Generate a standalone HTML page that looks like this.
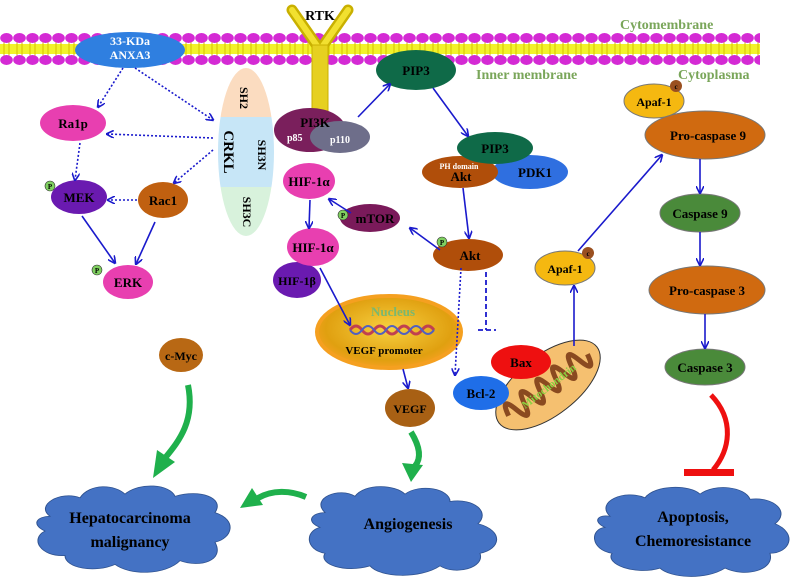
<!DOCTYPE html>
<html><head><meta charset="utf-8"><style>
html,body{margin:0;padding:0;background:#fff;}
svg{display:block;font-family:"Liberation Serif",serif;font-weight:bold;}
</style></head><body>
<svg width="795" height="579" viewBox="0 0 795 579" xmlns="http://www.w3.org/2000/svg">
<defs>
<pattern id="mem" x="0" y="33" width="13" height="32" patternUnits="userSpaceOnUse">
<rect x="0" y="11" width="13" height="10" fill="#f2f22a"/>
<line x1="4" y1="9" x2="4" y2="23" stroke="#d6c000" stroke-width="1"/>
<line x1="9" y1="9" x2="9" y2="23" stroke="#d6c000" stroke-width="1"/>
<ellipse cx="6.5" cy="5" rx="6.3" ry="5" fill="#d42ad4"/>
<ellipse cx="6.5" cy="27" rx="6.3" ry="5" fill="#d42ad4"/>
</pattern>
<marker id="ah" markerWidth="8" markerHeight="8" refX="7" refY="4" orient="auto" markerUnits="userSpaceOnUse"><path d="M0,0 L8,4 L0,8" fill="none" stroke="#1a1acc" stroke-width="1.6"/></marker>
<radialGradient id="nuc" cx="50%" cy="45%" r="55%"><stop offset="0" stop-color="#f7d040"/><stop offset="0.8" stop-color="#e0a010"/><stop offset="1" stop-color="#f5a020"/></radialGradient>
</defs>
<rect x="0" y="33" width="760" height="32" fill="url(#mem)"/>
<text x="620" y="29" fill="#7aa65a" font-size="14">Cytomembrane</text>
<text x="476" y="79" fill="#7aa65a" font-size="14">Inner membrane</text>
<text x="678" y="79" fill="#7aa65a" font-size="14">Cytoplasma</text>

<path d="M292,10 L320,50 L348,10" fill="none" stroke="#c9b000" stroke-width="11" stroke-linecap="round"/>
<path d="M292,10 L320,50 L348,10" fill="none" stroke="#f2e030" stroke-width="6" stroke-linecap="round"/>
<rect x="312" y="45" width="16" height="70" fill="#e6d020" stroke="#c9b000"/>
<text x="320" y="20" text-anchor="middle" font-size="14">RTK</text>

<ellipse cx="130" cy="50" rx="55" ry="18" fill="#2f7fe0"/>
<text x="130" y="45" text-anchor="middle" font-size="12" fill="#fff">33-KDa</text>
<text x="130" y="59" text-anchor="middle" font-size="12" fill="#fff">ANXA3</text>

<clipPath id="ck"><ellipse cx="246" cy="152" rx="28" ry="84"/></clipPath>
<g clip-path="url(#ck)">
<rect x="215" y="66" width="65" height="51" fill="#fbdcc0"/>
<rect x="215" y="117" width="65" height="70" fill="#c7e6f7"/>
<rect x="215" y="187" width="65" height="52" fill="#d8f2dc"/>
</g>
<text transform="translate(240,98) rotate(90)" text-anchor="middle" font-size="12">SH2</text>
<text transform="translate(224,152) rotate(90)" text-anchor="middle" font-size="15">CRKL</text>
<text transform="translate(258,155) rotate(90)" text-anchor="middle" font-size="12">SH3N</text>
<text transform="translate(243,212) rotate(90)" text-anchor="middle" font-size="12">SH3C</text>

<ellipse cx="310" cy="130" rx="36" ry="22" fill="#7a1f5c"/>
<ellipse cx="340" cy="137" rx="30" ry="16" fill="#6e6e8a"/>
<text x="315" y="127" text-anchor="middle" font-size="13">PI3K</text>
<text x="287" y="141" font-size="10" fill="#fff">p85</text>
<text x="330" y="143" font-size="10" fill="#fff">p110</text>

<ellipse cx="73" cy="123" rx="33" ry="18" fill="#e83fb0"/><text x="73" y="128" text-anchor="middle" font-size="13">Ra1p</text>
<ellipse cx="79" cy="197" rx="28" ry="17" fill="#6a1ab0"/><text x="79" y="202" text-anchor="middle" font-size="13">MEK</text>
<circle cx="50" cy="186" r="5" fill="#7fd060" stroke="#333" stroke-width=".6"/><text x="50" y="189" text-anchor="middle" font-size="7">P</text>
<ellipse cx="163" cy="200" rx="25" ry="18" fill="#c06010"/><text x="163" y="205" text-anchor="middle" font-size="13">Rac1</text>
<ellipse cx="128" cy="282" rx="25" ry="17" fill="#e83fb0"/><text x="128" y="287" text-anchor="middle" font-size="13">ERK</text>
<circle cx="97" cy="270" r="5" fill="#7fd060" stroke="#333" stroke-width=".6"/><text x="97" y="273" text-anchor="middle" font-size="7">P</text>
<ellipse cx="181" cy="355" rx="22" ry="17" fill="#b86814"/><text x="181" y="360" text-anchor="middle" font-size="12">c-Myc</text>

<ellipse cx="309" cy="181" rx="26" ry="18" fill="#e83fb0"/><text x="309" y="186" text-anchor="middle" font-size="13">HIF-1α</text>
<ellipse cx="370" cy="218" rx="30" ry="14" fill="#7a1a5a"/><text x="375" y="223" text-anchor="middle" font-size="13">mTOR</text>
<circle cx="343" cy="215" r="5" fill="#7fd060" stroke="#333" stroke-width=".6"/><text x="343" y="218" text-anchor="middle" font-size="7">P</text>
<ellipse cx="297" cy="280" rx="24" ry="18" fill="#6a1ab0"/><text x="297" y="285" text-anchor="middle" font-size="12">HIF-1β</text>
<ellipse cx="313" cy="247" rx="26" ry="19" fill="#e83fb0"/><text x="313" y="252" text-anchor="middle" font-size="13">HIF-1α</text>

<ellipse cx="389" cy="332" rx="72" ry="36" fill="url(#nuc)" stroke="#f5a020" stroke-width="4"/>
<text x="393" y="316" text-anchor="middle" font-size="13" fill="#7ab870">Nucleus</text>
<path d="M350,330 q6,-8 12,0 q6,8 12,0 q6,-8 12,0 q6,8 12,0 q6,-8 12,0 q6,8 12,0 q6,-8 12,0" fill="none" stroke="#c04050" stroke-width="3"/>
<path d="M350,330 q6,8 12,0 q6,-8 12,0 q6,8 12,0 q6,-8 12,0 q6,8 12,0 q6,-8 12,0 q6,8 12,0" fill="none" stroke="#5060c0" stroke-width="2"/>
<text x="384" y="354" text-anchor="middle" font-size="11">VEGF promoter</text>
<ellipse cx="410" cy="408" rx="25" ry="19" fill="#a86014"/><text x="410" y="413" text-anchor="middle" font-size="12">VEGF</text>

<ellipse cx="416" cy="70" rx="40" ry="20" fill="#0f6a48"/><text x="416" y="75" text-anchor="middle" font-size="13">PIP3</text>
<ellipse cx="530" cy="172" rx="38" ry="17" fill="#2f6fe0"/><text x="535" y="177" text-anchor="middle" font-size="13">PDK1</text>
<ellipse cx="460" cy="172" rx="38" ry="16" fill="#b04e0a"/><text x="459" y="169" text-anchor="middle" font-size="8" fill="#fff">PH domain</text><text x="461" y="181" text-anchor="middle" font-size="13">Akt</text>
<ellipse cx="495" cy="148" rx="38" ry="16" fill="#0f6a48"/><text x="495" y="153" text-anchor="middle" font-size="13">PIP3</text>
<ellipse cx="468" cy="255" rx="35" ry="16" fill="#b04e0a"/><text x="470" y="260" text-anchor="middle" font-size="13">Akt</text>
<circle cx="442" cy="242" r="5" fill="#7fd060" stroke="#333" stroke-width=".6"/><text x="442" y="245" text-anchor="middle" font-size="7">P</text>

<g transform="translate(548,385) rotate(-38)">
<ellipse rx="62" ry="30" fill="#f5c070" stroke="#333"/>
<path d="M-50,0 q5,-22 10,0 q5,22 10,0 q5,-22 10,0 q5,22 10,0 q5,-22 10,0 q5,22 10,0 q5,-22 10,0 q5,22 10,0 q5,-22 10,0 q5,22 10,0" fill="none" stroke="#8a4a20" stroke-width="5"/>
<text x="0" y="5" text-anchor="middle" font-size="11" fill="#8ad040">Mitochondrin</text>
</g>
<ellipse cx="521" cy="362" rx="30" ry="17" fill="#ee1010"/><text x="521" y="367" text-anchor="middle" font-size="13">Bax</text>
<ellipse cx="481" cy="393" rx="28" ry="17" fill="#1f6ee8"/><text x="481" y="398" text-anchor="middle" font-size="13">Bcl-2</text>

<ellipse cx="565" cy="268" rx="30" ry="17" fill="#f5b810" stroke="#777"/><text x="565" y="273" text-anchor="middle" font-size="12">Apaf-1</text>
<circle cx="588" cy="253" r="6" fill="#9a5020"/><text x="588" y="256" text-anchor="middle" font-size="7">c</text>
<ellipse cx="654" cy="101" rx="30" ry="17" fill="#f5b810" stroke="#777"/><text x="654" y="106" text-anchor="middle" font-size="12">Apaf-1</text>
<circle cx="676" cy="86" r="6" fill="#9a5020"/><text x="676" y="89" text-anchor="middle" font-size="7">c</text>
<ellipse cx="705" cy="135" rx="60" ry="24" fill="#d06a10" stroke="#777"/><text x="708" y="140" text-anchor="middle" font-size="13">Pro-caspase 9</text>
<ellipse cx="700" cy="213" rx="40" ry="19" fill="#4a8a3a" stroke="#777"/><text x="700" y="218" text-anchor="middle" font-size="13">Caspase 9</text>
<ellipse cx="707" cy="290" rx="58" ry="24" fill="#d06a10" stroke="#777"/><text x="707" y="295" text-anchor="middle" font-size="13">Pro-caspase 3</text>
<ellipse cx="705" cy="367" rx="40" ry="18" fill="#4a8a3a" stroke="#777"/><text x="705" y="372" text-anchor="middle" font-size="13">Caspase 3</text>

<g fill="none" stroke="#1a1acc" stroke-width="1.6" marker-end="url(#ah)">
<path d="M123,68 L98,107" stroke-dasharray="2,2"/>
<path d="M135,68 L213,120" stroke-dasharray="2,2"/>
<path d="M213,138 L107,134" stroke-dasharray="2,2"/>
<path d="M213,150 L174,183" stroke-dasharray="2,2"/>
<path d="M80,143 L75,180" stroke-dasharray="2,2"/>
<path d="M137,200 L108,200" stroke-dasharray="2,2"/>
<path d="M82,216 L115,263"/>
<path d="M155,222 L136,264"/>
<path d="M358,117 L390,84"/>
<path d="M433,88 L468,136"/>
<path d="M463,188 L469,238"/>
<path d="M440,250 L410,228"/>
<path d="M351,213 L329,199"/>
<path d="M310,200 L309,228"/>
<path d="M320,268 L350,325"/>
<path d="M403,369 L408,388"/>
<path d="M461,268 L455,375" stroke-dasharray="2,2"/>
<path d="M574,346 L574,286"/>
<path d="M578,251 L662,155"/>
<path d="M700,159 L700,193"/>
<path d="M700,232 L700,265"/>
<path d="M705,314 L705,348"/>
</g>
<path d="M486,272 L486,330 M478,330 L496,330" fill="none" stroke="#1a1acc" stroke-width="1.8" stroke-dasharray="5,3"/>

<g fill="#4472c4" stroke="#2f528f" stroke-width="1" transform="translate(0,150) scale(1,0.74)">
<path d="M50,495 C35,480 60,460 80,470 C90,450 115,452 125,465 C140,448 170,452 175,468 C200,458 225,470 215,490 C238,500 232,525 215,530 C225,555 200,565 180,555 C165,575 130,575 115,560 C95,572 65,565 65,548 C40,550 30,525 45,515 C30,505 38,495 50,495 Z"/>
<path d="M325,490 C310,470 340,455 355,468 C365,450 395,452 405,465 C420,450 450,458 450,475 C475,470 490,490 478,505 C505,515 500,540 480,545 C485,565 455,575 440,562 C420,580 380,578 370,562 C345,572 318,560 325,545 C305,540 305,515 320,510 C305,502 312,490 325,490 Z"/>
<path d="M610,495 C595,475 625,458 645,470 C655,452 690,452 700,465 C715,450 745,455 750,472 C775,468 790,490 775,505 C798,518 790,545 770,545 C775,568 745,578 725,565 C705,582 670,578 660,565 C635,575 605,560 612,545 C590,540 590,512 605,510 C592,502 598,492 610,495 Z"/>
</g>

<g fill="none" stroke="#1fb04c" stroke-width="6">
<path d="M188,385 C195,420 180,440 165,458"/>
<path d="M411,432 C422,450 420,460 415,466"/>
<path d="M306,497 C290,490 272,490 258,498"/>
</g>
<g fill="#1fb04c">
<path d="M153,478 L157,450 L175,462 Z"/>
<path d="M411,482 L402,463 L423,465 Z"/>
<path d="M240,508 L252,488 L263,505 Z"/>
</g>
<path d="M711,395 C735,420 730,450 713,470" fill="none" stroke="#ee1010" stroke-width="5"/>
<rect x="684" y="469" width="50" height="7" fill="#ee1010"/>

<g font-size="16" text-anchor="middle">
<text x="130" y="523">Hepatocarcinoma</text>
<text x="130" y="547">malignancy</text>
<text x="408" y="529">Angiogenesis</text>
<text x="693" y="522">Apoptosis,</text>
<text x="693" y="546">Chemoresistance</text>
</g>
</svg>
</body></html>
